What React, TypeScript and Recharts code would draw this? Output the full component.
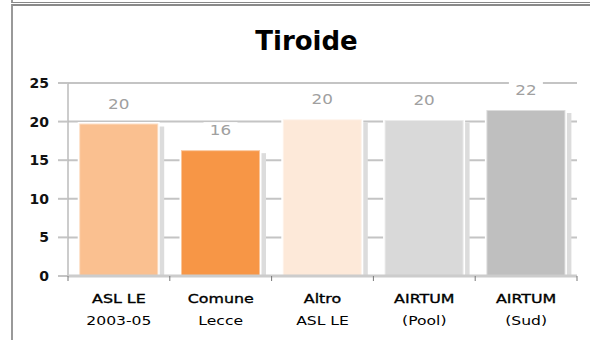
import React from "react";
import { BarChart, Bar, XAxis, YAxis, CartesianGrid, Cell, LabelList } from "recharts";

const categoryLine1 = ["ASL LE", "Comune", "Altro", "AIRTUM", "AIRTUM"];
const categoryLine2 = ["2003-05", "Lecce", "ASL LE", "(Pool)", "(Sud)"];
const values = [19.75, 16.3, 20.3, 20.2, 21.5];
const yTicks = [0, 5, 10, 15, 20, 25];
const title = "Tiroide";

const barColors = ["#FAC090", "#F79646", "#FDE9D9", "#D9D9D9", "#BFBFBF"];

const W = 590;
const H = 340;
const MARGIN = { top: 83, right: 13, bottom: 14, left: 8 };
const Y_AXIS_W = 60;
const X_AXIS_H = 50;
const PLOT_LEFT = MARGIN.left + Y_AXIS_W;
const PLOT_RIGHT = W - MARGIN.right;
const BAND = (PLOT_RIGHT - PLOT_LEFT) / values.length;

const data = values.map((v, i) => ({
  l1: categoryLine1[i],
  l2: categoryLine2[i],
  name: categoryLine1[i] + " " + categoryLine2[i],
  value: v,
}));

const FONT = "'DejaVu Sans', sans-serif";

const XTick = (props: any) => {
  const { x, y, index } = props;
  const d = data[index];
  if (!d) return null;
  const left = x - BAND / 2;
  const right = x + BAND / 2;
  return (
    <g>
      <line x1={left} x2={left} y1={y} y2={y + 5} stroke="#777" strokeWidth={1} />
      {index === data.length - 1 && (
        <line x1={right} x2={right} y1={y} y2={y + 5} stroke="#777" strokeWidth={1} />
      )}
      <text
        transform={`translate(${x},${y + 27}) scale(1.22,1)`}
        textAnchor="middle"
        fontFamily={FONT}
        fontSize={13}
        stroke="#000"
        strokeWidth={0.35}
        fill="#000"
      >
        {d.l1}
      </text>
      <text
        transform={`translate(${x},${y + 49}) scale(1.2,1)`}
        textAnchor="middle"
        fontFamily={FONT}
        fontSize={13}
        fill="#000"
      >
        {d.l2}
      </text>
    </g>
  );
};

const YTick = (props: any) => {
  const { x, y, payload } = props;
  return (
    <text
      x={x}
      y={y}
      dy="0.36em"
      textAnchor="end"
      fontFamily={FONT}
      fontWeight="bold"
      fontSize={14}
      fill="#111"
    >
      {payload.value}
    </text>
  );
};

const BarShape = (props: any) => {
  const { x, y, width, height, fill } = props;
  if (height <= 0) return null;
  return (
    <g>
      <rect x={x + width} y={y + 3} width={6} height={height - 3} fill="#DCDCDC" />
      <rect x={x - 1.5} y={y - 1.5} width={width + 3} height={height + 1.5} fill="#FFFFFF" />
      <rect
        x={x}
        y={y}
        width={width}
        height={height}
        fill={fill}
        stroke="rgba(255,255,255,0.45)"
        strokeWidth={2}
      />
    </g>
  );
};

const ValueLabel = (props: any) => {
  const { x, y, width, value } = props;
  const cx = x + width / 2;
  const cy = y - 20;
  return (
    <g>
      <rect x={cx - 17} y={cy - 8} width={34} height={16} fill="#FFFFFF" />
      <text
        transform={`translate(${cx},${cy}) scale(1.2,1)`}
        dy="0.36em"
        textAnchor="middle"
        fontFamily={FONT}
        fontSize={14}
        fill="#A0A0A0"
      >
        {Math.round(value)}
      </text>
    </g>
  );
};

export default function App() {
  return (
    <div style={{ position: "absolute", left: 0, top: 0, width: W, height: H, background: "#fff" }}>
      <div
        style={{
          position: "absolute",
          left: 11,
          top: 0,
          width: W - 11,
          height: 2,
          borderLeft: "2px solid #999",
          borderBottom: "1px solid #888",
        }}
      />
      <div
        style={{
          position: "absolute",
          left: 11,
          top: 4,
          width: W - 11,
          height: H - 4,
          borderLeft: "2px solid #999",
          borderTop: "2px solid #8a8a8a",
          boxSizing: "border-box",
        }}
      />
      <div style={{ position: "absolute", left: 0, top: 0 }}>
        <BarChart width={W} height={H} data={data} margin={MARGIN} barCategoryGap="11%">
          <CartesianGrid vertical={false} stroke="#C4C4C4" strokeWidth={2} />
          <YAxis
            width={Y_AXIS_W}
            domain={[0, 25]}
            ticks={yTicks}
            interval={0}
            axisLine={{ stroke: "#BBBBBB", strokeWidth: 1.5 }}
            tickLine={{ stroke: "#C4C4C4", strokeWidth: 2 }}
            tickSize={10}
            tickMargin={9}
            tick={<YTick />}
          />
          <XAxis
            dataKey="name"
            height={X_AXIS_H}
            interval={0}
            axisLine={{ stroke: "#CCCCCC", strokeWidth: 3 }}
            tickLine={false}
            tickSize={0}
            tickMargin={0}
            tick={<XTick />}
          />
          <Bar dataKey="value" isAnimationActive={false} shape={<BarShape />}>
            {data.map((d, i) => (
              <Cell key={d.name} fill={barColors[i]} />
            ))}
            <LabelList dataKey="value" content={<ValueLabel />} />
          </Bar>
        </BarChart>
      </div>
      <svg
        width={W}
        height={70}
        style={{ position: "absolute", left: 0, top: 0, pointerEvents: "none" }}
      >
        <text x={306.5} y={50} textAnchor="middle" fontFamily={FONT} fontWeight="bold" fontSize={26} fill="#000">
          {title}
        </text>
      </svg>
    </div>
  );
}
